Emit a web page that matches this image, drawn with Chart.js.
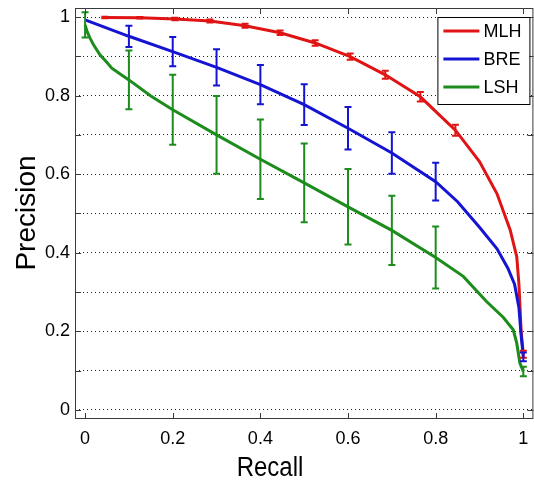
<!DOCTYPE html>
<html>
<head>
<meta charset="utf-8">
<script src="https://cdn.jsdelivr.net/npm/chart.js@4.4.1/dist/chart.umd.min.js"></script>
<style>
  html, body { margin: 0; padding: 0; background: #ffffff; }
  canvas { display: block; }
</style>
</head>
<body>
<canvas id="pr" width="534" height="490"></canvas>
<script>
// Precision-recall curves for three hashing methods
const seriesNames = ['MLH', 'BRE', 'LSH'];
const seriesColors = ['#e01414', '#1414d2', '#1c8c1c'];

const mlhRecall    = [0.044, 0.125, 0.205, 0.285, 0.365, 0.445, 0.525, 0.605, 0.685, 0.765, 0.845, 0.90, 0.94, 0.97, 0.985, 0.99, 0.995, 1.0];
const mlhPrecision = [0.999, 0.998, 0.995, 0.990, 0.978, 0.960, 0.934, 0.899, 0.853, 0.797, 0.712, 0.632, 0.550, 0.458, 0.390, 0.320, 0.200, 0.142];

const breRecall    = [0.0, 0.1, 0.2, 0.3, 0.4, 0.5, 0.6, 0.7, 0.8, 0.85, 0.9, 0.94, 0.965, 0.98, 0.99, 0.995, 1.0];
const brePrecision = [0.993, 0.951, 0.912, 0.872, 0.828, 0.777, 0.717, 0.654, 0.581, 0.530, 0.465, 0.410, 0.360, 0.320, 0.260, 0.190, 0.135];

const lshRecall    = [0.0, 0.005, 0.011, 0.02, 0.034, 0.05, 0.061, 0.08, 0.1, 0.15, 0.2, 0.3, 0.4, 0.5, 0.6, 0.7, 0.8, 0.863, 0.916, 0.954, 0.977, 0.985, 0.992, 1.0];
const lshPrecision = [0.980, 0.962, 0.947, 0.928, 0.904, 0.884, 0.870, 0.855, 0.840, 0.799, 0.764, 0.700, 0.638, 0.578, 0.517, 0.457, 0.388, 0.340, 0.276, 0.236, 0.204, 0.170, 0.120, 0.098];

// Error bars: recall position, mean precision, half-height
const mlhErrRecall = [0.045, 0.125, 0.205, 0.285, 0.365, 0.445, 0.525, 0.605, 0.685, 0.765, 0.845, 1.0];
const mlhErrMean   = [0.999, 0.998, 0.995, 0.990, 0.978, 0.960, 0.934, 0.899, 0.853, 0.797, 0.712, 0.142];
const mlhErrHalf   = [0.002, 0.002, 0.003, 0.004, 0.005, 0.006, 0.007, 0.008, 0.010, 0.012, 0.014, 0.009];

const breErrRecall = [0.1, 0.2, 0.3, 0.4, 0.5, 0.6, 0.7, 0.8, 1.0];
const breErrMean   = [0.951, 0.912, 0.872, 0.828, 0.777, 0.717, 0.654, 0.581, 0.135];
const breErrHalf   = [0.027, 0.037, 0.046, 0.050, 0.052, 0.054, 0.053, 0.048, 0.011];

const lshErrRecall = [0.0, 0.1, 0.2, 0.3, 0.4, 0.5, 0.6, 0.7, 0.8, 1.0];
const lshErrMean   = [0.980, 0.840, 0.764, 0.700, 0.638, 0.578, 0.517, 0.457, 0.388, 0.098];
const lshErrHalf   = [0.032, 0.075, 0.089, 0.099, 0.101, 0.100, 0.096, 0.088, 0.079, 0.012];

const xTickValues = [0, 0.2, 0.4, 0.6, 0.8, 1];
const yTickValues = [0, 0.1, 0.2, 0.3, 0.4, 0.5, 0.6, 0.7, 0.8, 0.9, 1];
const xTitle = 'Recall';
const yTitle = 'Precision';

const FONT = "'Liberation Sans', Arial, Helvetica, sans-serif";

function toPoints(xs, ys) { return xs.map((x, i) => ({ x: x, y: ys[i] })); }

const errorSets = [
  { r: mlhErrRecall, m: mlhErrMean, h: mlhErrHalf },
  { r: breErrRecall, m: breErrMean, h: breErrHalf },
  { r: lshErrRecall, m: lshErrMean, h: lshErrHalf }
];

// vertical error bars with caps, drawn through the chart scales
const errorBars = {
  id: 'errorBars',
  afterDatasetsDraw(chart) {
    const { ctx, chartArea, scales } = chart;
    const xs = scales.x, ys = scales.y;
    ctx.save();
    ctx.beginPath();
    ctx.rect(chartArea.left, chartArea.top, chartArea.right - chartArea.left, chartArea.bottom - chartArea.top);
    ctx.clip();
    errorSets.forEach((set, k) => {
      ctx.strokeStyle = seriesColors[k];
      ctx.lineWidth = 2;
      set.r.forEach((r, i) => {
        const px = xs.getPixelForValue(r);
        const top = ys.getPixelForValue(set.m[i] + set.h[i]);
        const bot = ys.getPixelForValue(set.m[i] - set.h[i]);
        const cap = 3.5;
        ctx.beginPath();
        ctx.moveTo(px, top); ctx.lineTo(px, bot);
        ctx.moveTo(px - cap, top); ctx.lineTo(px + cap, top);
        ctx.moveTo(px - cap, bot); ctx.lineTo(px + cap, bot);
        ctx.stroke();
      });
    });
    ctx.restore();
  }
};

// box around the axes with inward tick marks on all four sides
const axesFrame = {
  id: 'axesFrame',
  afterDraw(chart) {
    const { ctx, chartArea: a, scales } = chart;
    ctx.save();
    ctx.strokeStyle = '#3a3a3a';
    ctx.lineWidth = 1;
    ctx.strokeRect(a.left + 0.5, a.top + 0.5, a.right - a.left - 1, a.bottom - a.top - 1);
    const len = 6;
    ctx.beginPath();
    xTickValues.forEach(v => {
      const px = Math.round(scales.x.getPixelForValue(v)) + 0.5;
      ctx.moveTo(px, a.bottom); ctx.lineTo(px, a.bottom - len);
      ctx.moveTo(px, a.top); ctx.lineTo(px, a.top + len);
    });
    yTickValues.forEach(v => {
      const py = Math.round(scales.y.getPixelForValue(v)) + 0.5;
      ctx.moveTo(a.left, py); ctx.lineTo(a.left + len, py);
      ctx.moveTo(a.right, py); ctx.lineTo(a.right - len, py);
    });
    ctx.stroke();
    ctx.restore();
  }
};

// axis titles
const axisTitles = {
  id: 'axisTitles',
  afterDraw(chart) {
    const { ctx } = chart;
    ctx.save();
    ctx.fillStyle = '#000';
    ctx.textAlign = 'center';
    ctx.textBaseline = 'middle';
    ctx.save();
    ctx.translate(270, 468);
    ctx.scale(1, 1.15);
    ctx.font = '24px ' + FONT;
    ctx.fillText(xTitle, 0, 0);
    ctx.restore();
    ctx.font = '28px ' + FONT;
    ctx.translate(27, 213);
    ctx.rotate(-Math.PI / 2);
    ctx.fillText(yTitle, 0, 0);
    ctx.restore();
  }
};

// boxed legend in the upper right corner
const boxLegend = {
  id: 'boxLegend',
  afterDraw(chart) {
    const { ctx, chartArea: a } = chart;
    const right = a.right - 4, top = a.top + 9, w = 92, h = 87;
    const left = right - w;
    ctx.save();
    ctx.fillStyle = '#fff';
    ctx.fillRect(left, top, w, h);
    ctx.strokeStyle = '#000';
    ctx.lineWidth = 1;
    ctx.strokeRect(left + 0.5, top + 0.5, w, h);
    ctx.font = '18px ' + FONT;
    ctx.textAlign = 'left';
    ctx.textBaseline = 'middle';
    chart.data.datasets.forEach((ds, i) => {
      const y = top + 14 + i * 28;
      ctx.strokeStyle = ds.borderColor;
      ctx.lineWidth = 3;
      ctx.beginPath();
      ctx.moveTo(left + 6, y); ctx.lineTo(left + 42, y);
      ctx.stroke();
      ctx.fillStyle = '#000';
      ctx.fillText(ds.label, left + 46, y + 1);
    });
    ctx.restore();
  }
};

const lineStyle = (i) => ({
  label: seriesNames[i],
  borderColor: seriesColors[i],
  backgroundColor: seriesColors[i],
  borderWidth: 3,
  pointRadius: 0,
  tension: 0,
  fill: false,
  showLine: true,
  order: 3 - i
});

function noScalePadding(scale) {
  scale.paddingLeft = 0;
  scale.paddingRight = 0;
  scale.paddingTop = 0;
  scale.paddingBottom = 0;
}

new Chart(document.getElementById('pr'), {
  type: 'line',
  data: {
    datasets: [
      Object.assign(lineStyle(0), { data: toPoints(mlhRecall, mlhPrecision) }),
      Object.assign(lineStyle(1), { data: toPoints(breRecall, brePrecision) }),
      Object.assign(lineStyle(2), { data: toPoints(lshRecall, lshPrecision) })
    ]
  },
  options: {
    responsive: false,
    animation: false,
    devicePixelRatio: 1,
    layout: { padding: { top: 8, right: 0.6, left: 0, bottom: 0 } },
    plugins: { legend: { display: false }, tooltip: { enabled: false } },
    scales: {
      x: {
        type: 'linear',
        min: -0.023, max: 1.023,
        afterFit(scale) { scale.height = 71; noScalePadding(scale); },
        afterBuildTicks(scale) { scale.ticks = xTickValues.map(v => ({ value: v })); },
        grid: { display: false, drawTicks: false },
        border: { display: false },
        ticks: {
          autoSkip: false, maxRotation: 0, padding: 9, color: '#000',
          font: { family: FONT, size: 18 },
          callback: (v) => String(+Number(v).toFixed(1))
        }
      },
      y: {
        type: 'linear',
        min: -0.023, max: 1.023,
        afterFit(scale) { scale.width = 75; noScalePadding(scale); },
        afterBuildTicks(scale) { scale.ticks = yTickValues.map(v => ({ value: v })); },
        grid: { display: true, drawTicks: false, color: '#222', lineWidth: 1 },
        border: { display: false, dash: [1, 3] },
        ticks: {
          autoSkip: false, padding: 5, color: '#000',
          font: { family: FONT, size: 18 },
          callback: (v) => (Math.round(v * 10) % 2 === 0 ? String(+Number(v).toFixed(1)) : '')
        }
      }
    }
  },
  plugins: [errorBars, axesFrame, axisTitles, boxLegend]
});
</script>
</body>
</html>
